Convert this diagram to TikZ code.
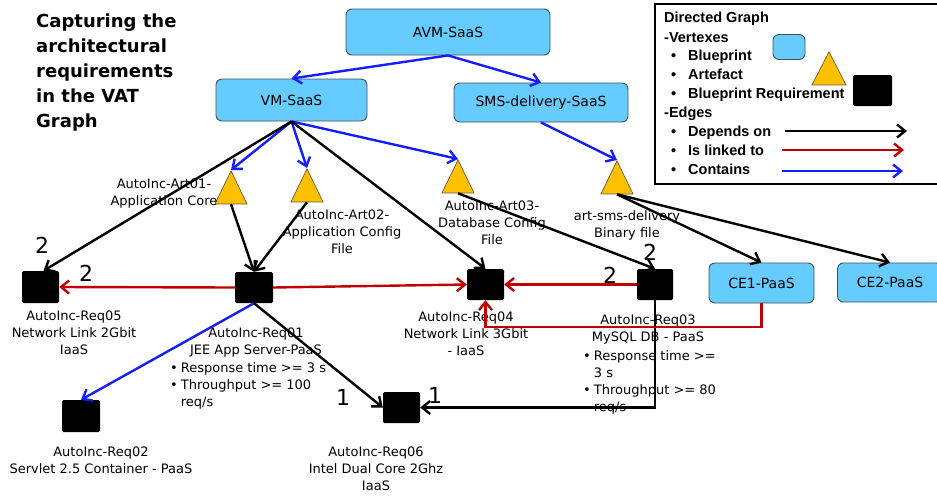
\documentclass[tikz,border=0pt]{standalone}
\usepackage{fontspec}
\setmainfont{DejaVu Sans}
\newfontfamily\legfont{Liberation Sans}
\usetikzlibrary{arrows.meta,shapes.geometric}
\definecolor{bpblue}{RGB}{102,204,255}
\definecolor{bpedge}{RGB}{70,80,90}
\definecolor{artfill}{RGB}{255,192,0}
\definecolor{artedge}{RGB}{110,90,40}
\definecolor{linkred}{RGB}{192,0,0}
\definecolor{contblue}{RGB}{20,30,250}
\begin{document}
\begin{tikzpicture}[x=1pt,y=-1pt,
  bp/.style={draw=bpedge, fill=bpblue, rounded corners=6pt, line width=0.9pt, inner sep=0, font=\fontsize{14}{16}\selectfont},
  art/.style={draw=artedge, fill=artfill, line width=0.7pt, isosceles triangle, shape border rotate=90, isosceles triangle stretches, minimum width=32pt, minimum height=33pt, inner sep=0},
  req/.style={fill=black, rounded corners=1.5pt, inner sep=0},
  lbl/.style={font=\fontsize{13}{17}\selectfont, align=center, inner sep=0, anchor=north},
  blt/.style={font=\fontsize{13}{17}\selectfont, inner sep=0, anchor=north west},
  num/.style={font=\fontsize{22}{24}\selectfont, inner sep=0},
  tip/.style={-{Straight Barb[length=8pt,width=13pt]}},
  dep/.style={draw=black, line width=2.4pt, tip},
  lnk/.style={draw=linkred, line width=2.4pt, tip},
  cnt/.style={draw=contblue, line width=2.4pt, tip},
  leg/.style={font=\legfont\bfseries\fontsize{14.5}{17}\selectfont, inner sep=0, anchor=base west}
]
\useasboundingbox (0,0) rectangle (937,496);

% title
\node[anchor=north west, align=left, inner sep=0, font=\bfseries\fontsize{18}{25}\selectfont] (title) at (36,14)
  {Capturing the\\architectural\\requirements\\in the VAT\\Graph};

% blueprints
\node[bp, minimum width=204pt, minimum height=46pt] (avm) at (448,32) {AVM-SaaS};
\node[bp, minimum width=151pt, minimum height=42pt] (vm) at (291.5,100) {VM-SaaS};
\node[bp, minimum width=174pt, minimum height=39pt] (sms) at (541,102.5) {SMS-delivery-SaaS};
\node[bp, minimum width=105pt, minimum height=40pt] (ce1) at (761.5,283) {CE1-PaaS};
\node[bp, minimum width=105pt, minimum height=39pt] (ce2) at (890,282.5) {CE2-PaaS};

% artefacts
\node[art, anchor=apex] (a1) at (231,170) {};
\node[art, anchor=apex] (a2) at (307,168) {};
\node[art, anchor=apex] (a3) at (458,159) {};
\node[art, anchor=apex] (a4) at (617,160) {};

% requirements
\node[req, minimum width=37pt, minimum height=32pt] (r05) at (40.5,287) {};
\node[req, minimum width=38pt, minimum height=31pt] (r01) at (254,287.5) {};
\node[req, minimum width=37pt, minimum height=31pt] (r04) at (485.5,284.5) {};
\node[req, minimum width=36pt, minimum height=31pt] (r03) at (655,284.5) {};
\node[req, minimum width=38pt, minimum height=32pt] (r02) at (81,416) {};
\node[req, minimum width=37pt, minimum height=31pt] (r06) at (401.5,407.5) {};

% labels
\node[lbl] (la1) at (164,179) {AutoInc-Art01-\\Application Core};
\node[lbl] (la2) at (342,210) {AutoInc-Art02-\\Application Config\\File};
\node[lbl] (la3) at (492,201) {AutoInc-Art03-\\Database Config\\File};
\node[lbl] (la4) at (627,210) {art-sms-delivery\\Binary file};
\node[lbl] (lr05) at (74,311) {AutoInc-Req05\\Network Link 2Gbit\\IaaS};
\node[lbl] (lr01) at (256,328) {AutoInc-Req01\\JEE App Server-PaaS};
\node[blt] (br01) at (170,360) {\begin{tabular}{@{}l@{\hspace{3pt}}l@{}}•&Response time >= 3 s\\•&Throughput >= 100\\&req/s\end{tabular}};
\node[lbl] (lr04) at (466,312) {AutoInc-Req04\\Network Link 3Gbit\\- IaaS};
\node[lbl] (lr03) at (648,315) {AutoInc-Req03\\MySQL DB - PaaS};
\node[blt] (br03) at (583,348) {\begin{tabular}{@{}l@{\hspace{3pt}}l@{}}•&Response time >=\\&3 s\\•&Throughput >= 80\\&req/s\end{tabular}};
\node[lbl] (lr02) at (101,447) {AutoInc-Req02\\Servlet 2.5 Container - PaaS};
\node[lbl] (lr06) at (376,447) {AutoInc-Req06\\Intel Dual Core 2Ghz\\IaaS};

% numbers
\node[num] (n1) at (42,245) {2};
\node[num] (n2) at (86,273) {2};
\node[num] (n3) at (650,252) {2};
\node[num] (n4) at (610,275) {2};
\node[num] (n5) at (343,397) {1};
\node[num] (n6) at (435,395) {1};

% contains edges
\draw[cnt] (avm.south) -- (vm.north);
\draw[cnt] (avm.south) -- (sms.north);
\draw[cnt] (vm.south) -- (a1.apex);
\draw[cnt] (vm.south) -- (a2.apex);
\draw[cnt] (vm.south) -- (a3.apex);
\draw[cnt] (sms.south) -- (a4.apex);
\draw[cnt] (r01.south) -- (r02.north);

% depends-on edges
\draw[dep] (vm.south) -- ([xshift=3pt]r05.north);
\draw[dep] (a1.lower side) -- (r01.north);
\draw[dep] (a2.lower side) -- (r01.north);
\draw[dep] (vm.south) -- (r04.north);
\draw[dep] (r01.south) -- (r06.west);
\draw[dep] (a3.lower side) -- (r03.north);
\draw[dep] (a4.lower side) -- (ce1.north);
\draw[dep] (a4.lower side) -- (ce2.north);
\draw[dep] (r03.south) |- (r06.east);

% linked-to edges
\coordinate (rj) at (600,327);
\draw[lnk] (r01.west) -- (r05.east);
\draw[lnk] (r01.east) -- (r04.west);
\draw[lnk] (r03.west) -- (r04.east);
\draw[lnk] (ce1.south) |- (rj) -| (r04.south);

% legend
\node[draw, line width=2.4pt, minimum width=300pt, minimum height=180pt, anchor=north west, inner sep=0] (legbox) at (654,3) {};
\node[leg] (lg1) at (664,22) {Directed Graph};
\node[leg] (lg2) at (664,42) {-Vertexes};
\node[leg] (lb1) at (671,60) {•};
\node[leg] (lg3) at (688,60) {Blueprint};
\node[leg] (lb2) at (671,79) {•};
\node[leg] (lg4) at (688,79) {Artefact};
\node[leg] (lb3) at (671,98) {•};
\node[leg] (lg5) at (688,98) {Blueprint Requirement};
\node[leg] (lg6) at (664,117) {-Edges};
\node[leg] (lb4) at (671,136) {•};
\node[leg] (lg7) at (688,136) {Depends on};
\node[leg] (lb5) at (671,155) {•};
\node[leg] (lg8) at (688,155) {Is linked to};
\node[leg] (lb6) at (671,174) {•};
\node[leg] (lg9) at (688,174) {Contains};
\node[bp, minimum width=32pt, minimum height=25pt] (legbp) at (789,47) {};
\node[art, anchor=apex, minimum width=34pt, minimum height=33pt] (legart) at (829,51) {};
\node[req, minimum width=39pt, minimum height=31pt] (legreq) at (872.5,90.5) {};
\coordinate (ld1) at (785,131);
\coordinate (ld2) at (907,131);
\coordinate (ll1) at (782,150);
\coordinate (ll2) at (904,150);
\coordinate (lc1) at (782,171);
\coordinate (lc2) at (903,171);
\draw[dep] (ld1) -- (ld2);
\draw[lnk] (ll1) -- (ll2);
\draw[cnt] (lc1) -- (lc2);
\end{tikzpicture}
\end{document}
